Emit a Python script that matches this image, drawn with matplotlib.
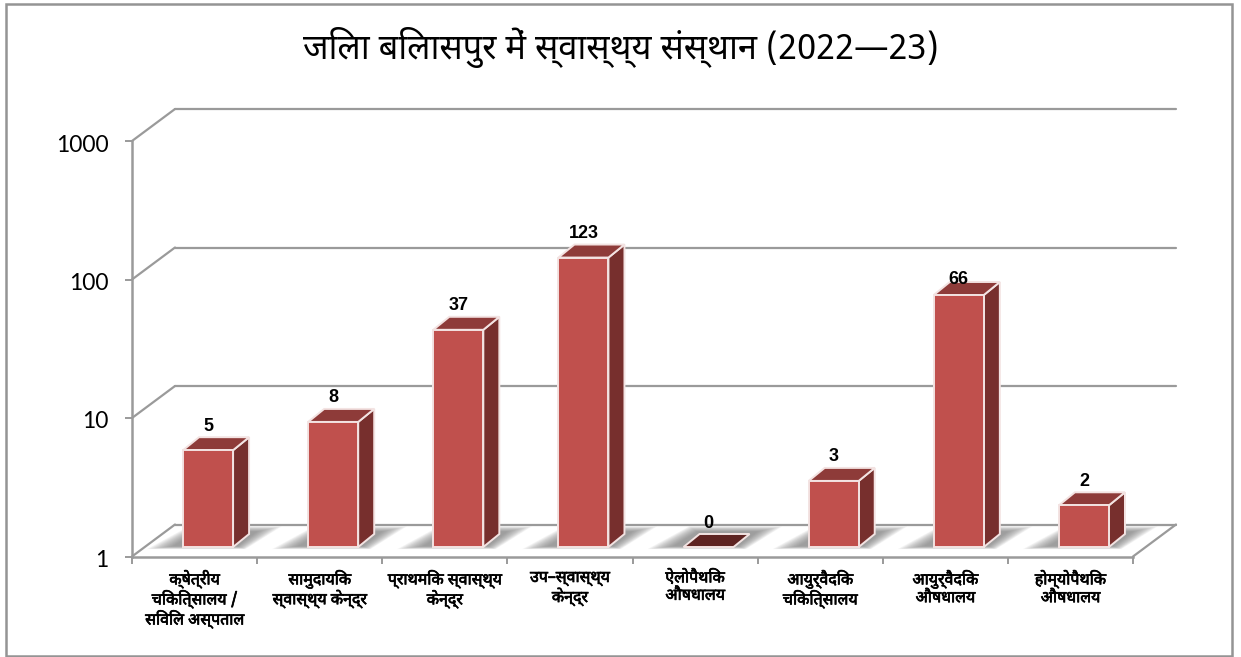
import numpy as np
import matplotlib
matplotlib.use("Agg")
import matplotlib.pyplot as plt
import matplotlib.patheffects as pe
from matplotlib.patches import Polygon, Rectangle
from matplotlib.transforms import Affine2D, IdentityTransform

# font: sandbox has devanagari families, keep latin fallback after them
HINDI = ["Noto Sans Devanagari", "Noto Sans Devanagari UI", "Mukta", "DejaVu Sans"]

TITLE = "जिला बिलासपुर में स्वास्थ्य संस्थान (2022—23)"
CATEGORIES = [
    "क्षेत्रीय\nचिकित्सालय /\nसिविल अस्पताल",
    "सामुदायिक\nस्वास्थ्य केन्द्र",
    "प्राथमिक स्वास्थ्य\nकेन्द्र",
    "उप–स्वास्थ्य\nकेन्द्र",
    "ऐलोपैथिक\nऔषधालय",
    "आयुर्वैदिक\nचिकित्सालय",
    "आयुर्वैदिक\nऔषधालय",
    "होम्योपैथिक\nऔषधालय",
]
VALUES = [5, 8, 37, 123, 0, 3, 66, 2]
Y_TICKS = [1, 10, 100, 1000]

W, H = 1241, 657
GRID = "#9a9a9a"
FRONT = "#C0504D"
TOP = "#8E3B39"
SIDE = "#772F2D"
FLAT = "#5E2321"
EDGE = "#F3E3E2"

# depth of the fake 3d box, in pixels
WALL_DX, WALL_DY = 43, 32
BAR_DX, BAR_DY = 16, 13
SHIFT_X, SHIFT_Y = 13.5, 9.5

fig = plt.figure(figsize=(W / 100, H / 100), dpi=100, facecolor="white")
ax = fig.add_axes([132 / W, (H - 556.5) / H, (1133 - 132) / W, 415.5 / H])
ax.set_facecolor("none")
ax.set_yscale("log")
ax.set_xlim(0, len(VALUES))
ax.set_ylim(1, 1000)

# outer frame
fig.add_artist(Rectangle((5.5 / W, 1 / H), 1226 / W, 652.5 / H, transform=fig.transFigure,
                         fill=False, edgecolor="#949494", linewidth=1.8))


def px(x, y, dx=0, dy=0):
    p = ax.transData.transform((x, y))
    return p[0] + dx, p[1] + dy


def poly(points, color, edge=None, z=3, alpha=None):
    ax.add_patch(Polygon(points, closed=True, facecolor=color, edgecolor=edge or "none",
                         linewidth=1.4 if edge else 0, transform=IdentityTransform(),
                         clip_on=False, zorder=z, alpha=alpha))


def pxline(a, b):
    ax.plot([a[0], b[0]], [a[1], b[1]], color=GRID, lw=1.6, transform=IdentityTransform(),
            clip_on=False, zorder=1, solid_capstyle="round")


# back wall lines and the slanted bits
n = len(VALUES)
for v in Y_TICKS:
    pxline(px(0, v), px(0, v, WALL_DX, WALL_DY))
    pxline(px(0, v, WALL_DX, WALL_DY), px(n, v, WALL_DX, WALL_DY))
pxline(px(n, 1), px(n, 1, WALL_DX, WALL_DY))

for i, v in enumerate(VALUES):
    h = max(v, 1)
    x0, x1 = i + 0.3, i + 0.7
    # soft shadow on the floor, nested polygons
    for g in range(14, 0, -1):
        a = px(x0, 1, SHIFT_X - 8 - g * 2.0, SHIFT_Y + 1 - g * 0.22)
        b = px(x1, 1, SHIFT_X + 4 + g * 0.6, SHIFT_Y + 1 - g * 0.22)
        c = px(x1, 1, SHIFT_X + 22 + g * 1.9, SHIFT_Y + 15 + g * 0.4)
        d = px(x0, 1, SHIFT_X + 14 - g * 0.6, SHIFT_Y + 15 + g * 0.4)
        poly([a, b, c, d], "#6e6e6e", z=1.5, alpha=0.07)

    fl = px(x0, h, SHIFT_X, SHIFT_Y)
    fr = px(x1, h, SHIFT_X, SHIFT_Y)
    bl = px(x0, 1, SHIFT_X, SHIFT_Y)
    br = px(x1, 1, SHIFT_X, SHIFT_Y)
    if v > 1:
        poly([br, fr, (fr[0] + BAR_DX, fr[1] + BAR_DY), (br[0] + BAR_DX, br[1] + BAR_DY)], SIDE, EDGE)
        poly([fl, fr, (fr[0] + BAR_DX, fr[1] + BAR_DY), (fl[0] + BAR_DX, fl[1] + BAR_DY)], TOP, EDGE)
        poly([bl, br, fr, fl], FRONT, EDGE)
    else:
        poly([fl, fr, (fr[0] + BAR_DX, fr[1] + BAR_DY), (fl[0] + BAR_DX, fl[1] + BAR_DY)], FLAT, EDGE)
    # 66 sits lower in the original, on top of its bar
    lift = 15 if v == 66 else 24
    cx, cy = px((x0 + x1) / 2, h, SHIFT_X, SHIFT_Y + lift)
    ax.text(cx, cy, str(v), transform=IdentityTransform(), ha="center", va="center",
            fontsize=13, fontweight="bold", family="Liberation Sans", color="black", zorder=6)

# axes, ticks
for s in ["top", "right"]:
    ax.spines[s].set_visible(False)
for s in ["left", "bottom"]:
    ax.spines[s].set_color(GRID)
    ax.spines[s].set_linewidth(1.8)
ax.set_yticks(Y_TICKS, [str(t) for t in Y_TICKS], fontsize=16.5, family="Lato")
ax.minorticks_off()
ax.tick_params(axis="y", length=5, width=1.4, color=GRID, pad=12)
for t in ax.get_yticklabels():
    t.set_transform(t.get_transform() + Affine2D().translate(0, -2))
ax.set_xticks(np.arange(n + 1), [""] * (n + 1))
ax.tick_params(axis="x", which="major", length=5, width=1.4, color=GRID)
ax.set_xticks(np.arange(n) + 0.5, CATEGORIES, minor=True)
ax.tick_params(axis="x", which="minor", length=0, pad=10)
for t in ax.get_xticklabels(minor=True):
    t.set_family(HINDI)
    t.set_fontsize(11.5)
    t.set_linespacing(1.12)
    t.set_path_effects([pe.withStroke(linewidth=0.5, foreground="black")])

fig.text(621 / W, (H - 47) / H, TITLE, ha="center", va="center", family=HINDI, fontsize=24.8, color="black")

fig.savefig("out.png", dpi=100)
